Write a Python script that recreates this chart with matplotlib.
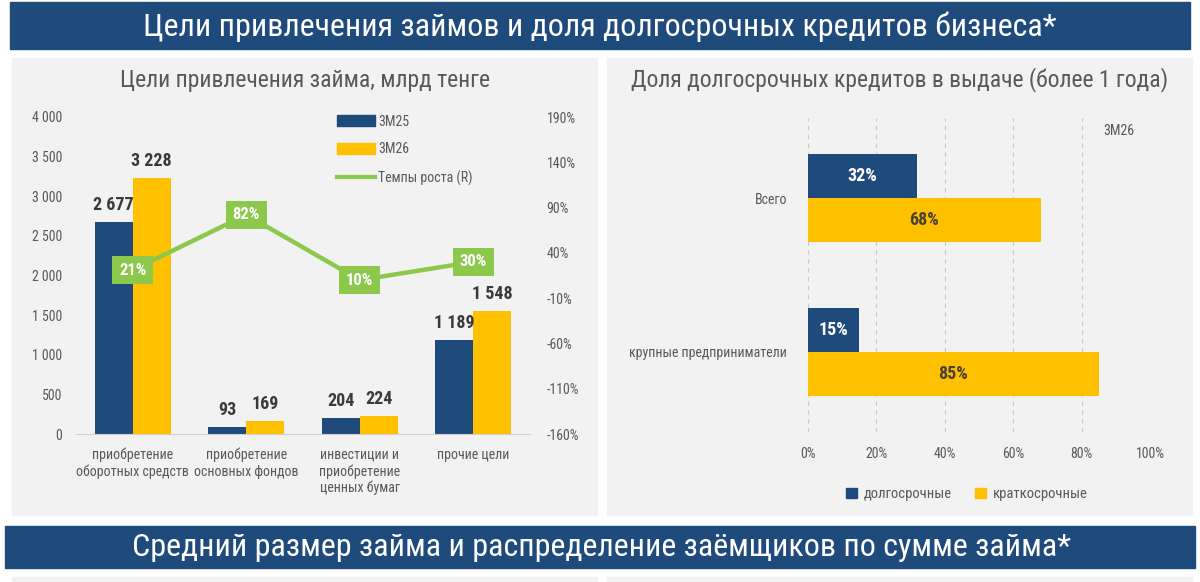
import matplotlib.pyplot as plt
from matplotlib.patches import Rectangle
from matplotlib.lines import Line2D
from matplotlib.patches import Patch

plt.rcParams['font.family'] = ['Roboto Condensed', 'DejaVu Sans']

# data
goals = ['приобретение\nоборотных средств', 'приобретение\nосновных фондов',
         'инвестиции и\nприобретение\nценных бумаг', 'прочие цели']
m25 = [2677, 93, 204, 1189]
m26 = [3228, 169, 224, 1548]
growth = [21, 82, 10, 30]

groups = ['крупные предприниматели', 'Всего']
long_term = [15, 32]
short_term = [85, 68]

BLUE = '#1f4a7c'
YELLOW = '#ffc000'
GREEN = '#8cc84b'
GRAY = '#595959'
PANEL = '#f2f2f2'
W, H = 1200, 582


def fx(x):
    return x / W


def fy(y):
    return 1 - y / H


def rect(x0, y0, x1, y1):
    return [fx(x0), fy(y1), fx(x1) - fx(x0), fy(y0) - fy(y1)]


def fmt(v):
    return f"{v:,}".replace(',', ' ')


fig = plt.figure(figsize=(12, 5.82), dpi=100)
fig.patch.set_facecolor('white')

# banners and panels
for (x0, y0, x1, y1, c) in [(10, 2, 1190, 49, BLUE), (5, 526, 1195, 568, BLUE),
                             (12, 58, 597, 515, PANEL), (607, 58, 1192, 515, PANEL),
                             (12, 577, 597, 600, PANEL), (607, 577, 1192, 600, PANEL)]:
    fig.add_artist(Rectangle((fx(x0), fy(y1)), fx(x1) - fx(x0), fy(y0) - fy(y1),
                             transform=fig.transFigure, color=c, zorder=0))

fig.text(fx(600), fy(27), 'Цели привлечения займов и доля долгосрочных кредитов бизнеса*',
         color='white', fontsize=23, ha='center', va='center')
fig.text(fx(602), fy(548), 'Средний размер займа и распределение заёмщиков по сумме займа*',
         color='white', fontsize=23, ha='center', va='center')

# ---- left chart
ax = fig.add_axes(rect(76, 117, 530, 434))
ax.set_facecolor('none')
x = range(len(goals))
bw = 0.335
b1 = ax.bar([i - bw / 2 for i in x], m25, bw, color=BLUE, label='3М25', zorder=2)
b2 = ax.bar([i + bw / 2 for i in x], m26, bw, color=YELLOW, label='3М26', zorder=2)
for bars, vals in [(b1, m25), (b2, m26)]:
    for b, v in zip(bars, vals):
        ax.text(b.get_x() + b.get_width() / 2, v + 100, fmt(v), ha='center', va='bottom',
                fontsize=13, fontweight='bold', color='#3a3a3a')
ax.set_xlim(-0.5, 3.5)
ax.set_ylim(0, 4000)
ax.set_yticks(range(0, 4001, 500))
ax.set_yticklabels([fmt(v) for v in range(0, 4001, 500)])
ax.set_xticks(list(x))
ax.set_xticklabels(goals)
ax.tick_params(length=0, labelsize=10, colors=GRAY)
ax.tick_params(axis='y', pad=10)
ax.tick_params(axis='x', pad=10)
for s in ['top', 'right', 'left']:
    ax.spines[s].set_visible(False)
ax.spines['bottom'].set_color('#d0d0d0')

ax2 = ax.twinx()
ax2.plot(list(x), growth, color=GREEN, lw=3.2, zorder=3)
for i, g in enumerate(growth):
    ax2.text(i, g, f'{g}%', ha='center', va='center', color='white', fontsize=12,
             fontweight='bold', zorder=4,
             bbox=dict(boxstyle='square,pad=0.4', fc=GREEN, ec='none'))
ax2.set_ylim(-160, 190)
ax2.set_yticks(range(-160, 191, 50))
ax2.set_yticklabels([f'{v}%' for v in range(-160, 191, 50)])
ax2.tick_params(length=0, labelsize=10, colors=GRAY, pad=12)
for s in ax2.spines.values():
    s.set_visible(False)

handles = [Patch(color=BLUE, label='3М25'), Patch(color=YELLOW, label='3М26'),
           Line2D([], [], color=GREEN, lw=3, label='Темпы роста (R)')]
fig.legend(handles=handles, loc='upper left', bbox_to_anchor=(fx(324), fy(102)),
           frameon=False, fontsize=10, labelcolor=GRAY, handlelength=2.8,
           handleheight=0.9, labelspacing=1.0, handletextpad=0.2)

fig.text(fx(305), fy(80), 'Цели привлечения займа, млрд тенге', ha='center', va='center',
         fontsize=17, color=GRAY)

# ---- right chart
bx = fig.add_axes(rect(808, 118, 1150, 432))
bx.set_facecolor('none')
bh = 0.286
y = range(len(groups))
lb = bx.barh([i + bh / 2 for i in y], long_term, bh, color=BLUE, zorder=2)
sb = bx.barh([i - bh / 2 for i in y], short_term, bh, color=YELLOW, zorder=2)
for bars, vals, c in [(lb, long_term, 'white'), (sb, short_term, '#4a4030')]:
    for b, v in zip(bars, vals):
        bx.text(v / 2, b.get_y() + b.get_height() / 2, f'{v}%', ha='center', va='center',
                fontsize=13, fontweight='bold', color=c)
bx.set_xlim(0, 100)
bx.set_ylim(-0.52, 1.52)
bx.set_xticks(range(0, 101, 20))
bx.set_xticklabels([f'{v}%' for v in range(0, 101, 20)])
bx.set_yticks(list(y))
bx.set_yticklabels(groups)
bx.tick_params(length=0, labelsize=10, colors=GRAY)
bx.tick_params(axis='x', pad=11)
bx.tick_params(axis='y', pad=15)
bx.grid(axis='x', color='#c8c8c8', ls=(0, (4, 4)), lw=0.8, zorder=0)
for s in bx.spines.values():
    s.set_visible(False)
bx.text(0.91, 0.98, '3М26', transform=bx.transAxes, ha='center', va='top',
        fontsize=10, color=GRAY)

fig.text(fx(900), fy(80), 'Доля долгосрочных кредитов в выдаче (более 1 года)',
         ha='center', va='center', fontsize=17, color=GRAY)
fig.legend(handles=[Patch(color=BLUE, label='долгосрочные'),
                    Patch(color=YELLOW, label='краткосрочные')],
           loc='center', bbox_to_anchor=(fx(967), fy(494)), ncol=2, frameon=False,
           fontsize=10.5, labelcolor=GRAY, handlelength=0.7, handleheight=0.7,
           handletextpad=0.5, columnspacing=1.6)

fig.savefig('out.png', dpi=100)
